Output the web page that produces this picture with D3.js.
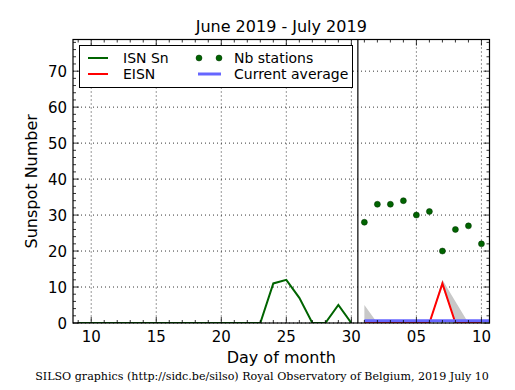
<!DOCTYPE html>
<html lang="en">
<head>
<meta charset="UTF-8">
<title>SILSO</title>
<style>
  body { margin: 0; background: #fff; }
  text { font-family: "DejaVu Sans", sans-serif; }
</style>
</head>
<body>
<script src="https://d3js.org/d3.v7.min.js"></script>
<script>
// day index: June 1..30 = 1..30, July 1..10 = 31..40
var isnDays = [9,10,11,12,13,14,15,16,17,18,19,20,21,22,23,24,25,26,27,28,29,30];
var isnVals = [0,0,0,0,0,0,0,0,0,0,0,0,0,0,0,11,12,7,0,0,5,0];

var julyDays = [31,32,33,34,35,36,37,38,39,40];
var eisnVals = [0,0,0,0,0,0,11,0,0,0];
var eisnHigh = [5,0,0,0,0,0,12,6,0,0];
var eisnLow  = [0,0,0,0,0,0,10,0,0,0];
var nbStations = [28,33,33,34,30,31,20,26,27,22];

var avgDays = [31,42];
var avgVals = [0.6,0.6];

var xTicks = [10,15,20,25,30,35,40];
var xTickLabels = ["10","15","20","25","30","05","10"];
var yTicks = [0,10,20,30,40,50,60,70];

var width = 515, height = 390;
var pl = 73, pr = 489.5, pt = 39.5, pb = 323;

var svg = d3.select("body").append("svg")
  .attr("width", width).attr("height", height);

var x = d3.scaleLinear().domain([8.6, 40.62]).range([pl, pr]);
var y = d3.scaleLinear().domain([0, 78.8]).range([pb, pt]);

svg.append("defs").append("clipPath").attr("id", "clip")
  .append("rect").attr("x", pl).attr("y", pt)
  .attr("width", pr - pl).attr("height", pb - pt);

// grid
var grid = svg.append("g");
xTicks.forEach(function(d){
  grid.append("line").attr("x1", x(d)).attr("x2", x(d)).attr("y1", pt).attr("y2", pb)
    .attr("stroke", "#000").attr("stroke-width", 0.8).attr("stroke-dasharray", "1,3");
});
yTicks.forEach(function(d){
  grid.append("line").attr("x1", pl).attr("x2", pr).attr("y1", y(d)).attr("y2", y(d))
    .attr("stroke", "#000").attr("stroke-width", 0.8).attr("stroke-dasharray", "1,3");
});

var plot = svg.append("g").attr("clip-path", "url(#clip)");

// error band
var band = d3.area()
  .x(function(d, i){ return x(julyDays[i]); })
  .y0(function(d, i){ return y(eisnLow[i]); })
  .y1(function(d, i){ return y(eisnHigh[i]); });
plot.append("path").datum(eisnHigh).attr("d", band).attr("fill", "#c8c8c8");

var line = d3.line();
plot.append("path")
  .attr("d", line(isnDays.map(function(d, i){ return [x(d), y(isnVals[i])]; })))
  .attr("fill", "none").attr("stroke", "#006400").attr("stroke-width", 2);

plot.append("path")
  .attr("d", line(julyDays.map(function(d, i){ return [x(d), y(eisnVals[i])]; })))
  .attr("fill", "none").attr("stroke", "#ff0000").attr("stroke-width", 2);

plot.append("path")
  .attr("d", line(avgDays.map(function(d, i){ return [x(d), y(avgVals[i])]; })))
  .attr("fill", "none").attr("stroke", "#6666ff").attr("stroke-width", 3);

plot.selectAll("circle.nb").data(nbStations).enter().append("circle")
  .attr("class", "nb")
  .attr("cx", function(d, i){ return x(julyDays[i]); })
  .attr("cy", function(d){ return y(d); })
  .attr("r", 3).attr("fill", "#006400").attr("stroke", "#003000").attr("stroke-width", 0.5);

// month separator
svg.append("line").attr("x1", x(30.5)).attr("x2", x(30.5)).attr("y1", pt).attr("y2", pb)
  .attr("stroke", "#000").attr("stroke-width", 1.2);

// frame
svg.append("rect").attr("x", pl).attr("y", pt)
  .attr("width", pr - pl).attr("height", pb - pt)
  .attr("fill", "none").attr("stroke", "#000").attr("stroke-width", 1.2);

// ticks
var ticks = svg.append("g").attr("stroke", "#000").attr("stroke-width", 0.8);
d3.range(9, 41).forEach(function(d){
  var len = xTicks.indexOf(d) >= 0 ? 6 : 3;
  ticks.append("line").attr("x1", x(d)).attr("x2", x(d)).attr("y1", pb).attr("y2", pb - len);
  ticks.append("line").attr("x1", x(d)).attr("x2", x(d)).attr("y1", pt).attr("y2", pt + len);
});
d3.range(0, 79, 2).forEach(function(d){
  var len = d % 10 === 0 ? 6 : 3;
  ticks.append("line").attr("x1", pl).attr("x2", pl + len).attr("y1", y(d)).attr("y2", y(d));
  ticks.append("line").attr("x1", pr).attr("x2", pr - len).attr("y1", y(d)).attr("y2", y(d));
});

// tick labels
svg.selectAll("text.xt").data(xTicks).enter().append("text")
  .attr("x", function(d){ return x(d); }).attr("y", pb + 19)
  .attr("text-anchor", "middle").attr("font-size", 15)
  .text(function(d, i){ return xTickLabels[i]; });
svg.selectAll("text.yt").data(yTicks).enter().append("text")
  .attr("x", pl - 6).attr("y", function(d){ return y(d) + 5.5; })
  .attr("text-anchor", "end").attr("font-size", 15)
  .text(function(d){ return d; });

// titles
svg.append("text").attr("x", (pl + pr) / 2).attr("y", 32)
  .attr("text-anchor", "middle").attr("font-size", 16).text("June 2019 - July 2019");
svg.append("text").attr("x", (pl + pr) / 2).attr("y", 363)
  .attr("text-anchor", "middle").attr("font-size", 16).text("Day of month");
svg.append("text").attr("transform", "translate(37," + ((pt + pb) / 2) + ") rotate(-90)")
  .attr("text-anchor", "middle").attr("font-size", 16).text("Sunspot Number");
svg.append("text").attr("x", 262).attr("y", 380)
  .attr("text-anchor", "middle").attr("font-size", 11.1)
  .style("font-family", "'DejaVu Serif', serif")
  .text("SILSO graphics (http://sidc.be/silso) Royal Observatory of Belgium, 2019 July 10");

// legend
var lg = svg.append("g");
lg.append("rect").attr("x", 79.5).attr("y", 45.5).attr("width", 273).attr("height", 42)
  .attr("fill", "#fff").attr("stroke", "#000").attr("stroke-width", 1);
lg.append("line").attr("x1", 88).attr("x2", 108).attr("y1", 58).attr("y2", 58)
  .attr("stroke", "#006400").attr("stroke-width", 2);
lg.append("text").attr("x", 123).attr("y", 63).attr("font-size", 14).text("ISN Sn");
lg.append("line").attr("x1", 88).attr("x2", 108).attr("y1", 74).attr("y2", 74)
  .attr("stroke", "#ff0000").attr("stroke-width", 2);
lg.append("text").attr("x", 123).attr("y", 79).attr("font-size", 14).text("EISN");
[199, 219].forEach(function(cx){
  lg.append("circle").attr("cx", cx).attr("cy", 58).attr("r", 3)
    .attr("fill", "#006400").attr("stroke", "#003000").attr("stroke-width", 0.5);
});
lg.append("text").attr("x", 234).attr("y", 63).attr("font-size", 14).text("Nb stations");
lg.append("line").attr("x1", 198).attr("x2", 221).attr("y1", 74).attr("y2", 74)
  .attr("stroke", "#6666ff").attr("stroke-width", 3);
lg.append("text").attr("x", 234).attr("y", 79).attr("font-size", 14).text("Current average");
</script>
</body>
</html>
